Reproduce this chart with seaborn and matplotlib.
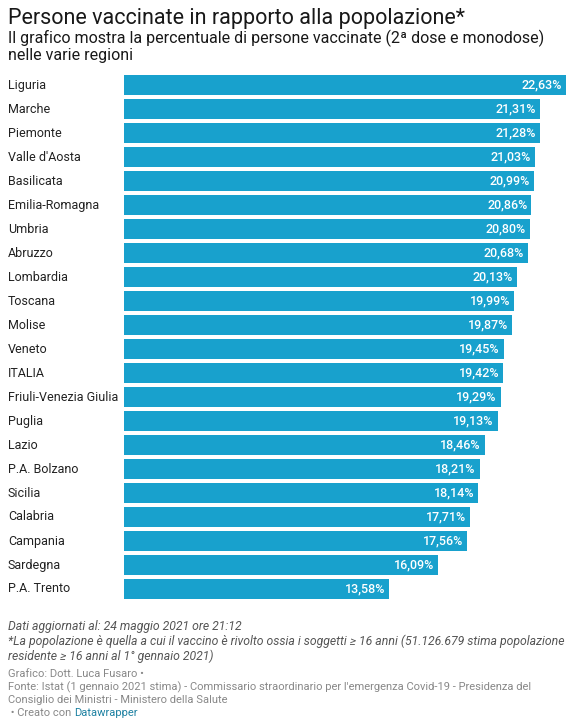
import matplotlib
matplotlib.use('Agg')
import matplotlib.pyplot as plt
import matplotlib.transforms as mtransforms
import seaborn as sns
import pandas as pd

regioni = ['Liguria', 'Marche', 'Piemonte', "Valle d'Aosta", 'Basilicata',
           'Emilia-Romagna', 'Umbria', 'Abruzzo', 'Lombardia', 'Toscana',
           'Molise', 'Veneto', 'ITALIA', 'Friuli-Venezia Giulia', 'Puglia',
           'Lazio', 'P.A. Bolzano', 'Sicilia', 'Calabria', 'Campania',
           'Sardegna', 'P.A. Trento']
percentuali = [22.63, 21.31, 21.28, 21.03, 20.99, 20.86, 20.80, 20.68, 20.13,
               19.99, 19.87, 19.45, 19.42, 19.29, 19.13, 18.46, 18.21, 18.14,
               17.71, 17.56, 16.09, 13.58]

df = pd.DataFrame({'Regione': regioni, 'Percentuale': percentuali})

sns.set_style('white')
plt.rcParams['font.family'] = ['Roboto', 'DejaVu Sans']

W, H = 574, 720
fig = plt.figure(figsize=(W / 100, H / 100), dpi=100)
ax = fig.add_axes([124 / W, 1 - 601 / H, (566 - 124) / W, (601 - 73) / H])

sns.barplot(data=df, x='Percentuale', y='Regione', orient='h', color='#18a1cd',
            saturation=1, width=0.83, linewidth=0, ax=ax)
ax.set_xlim(0, 22.63)
ax.set_ylim(len(regioni) - 0.5, -0.5)
ax.set_xlabel('')
ax.set_ylabel('')
ax.set_xticks([])
ax.set_yticks([])
for s in ax.spines.values():
    s.set_visible(False)

trans = mtransforms.blended_transform_factory(fig.transFigure, ax.transData)
for i, (r, v) in enumerate(zip(regioni, percentuali)):
    ax.text(8 / W, i, r, transform=trans, ha='left', va='center',
            fontsize=9, color='#222222')
    ax.annotate(f'{v:.2f}%'.replace('.', ','), xy=(v, i), xytext=(-3, 0),
                textcoords='offset points', ha='right', va='center',
                fontsize=9, color='white', fontweight='medium')

fig.text(8 / W, 1 - 8 / H, 'Persone vaccinate in rapporto alla popolazione*',
         fontsize=15.5, color='#181818', va='top', ha='left')
fig.text(8 / W, 1 - 30 / H,
         'Il grafico mostra la percentuale di persone vaccinate (2ª dose e monodose)\nnelle varie regioni',
         fontsize=11.5, color='#181818', va='top', ha='left', linespacing=1.05)

fig.text(8 / W, 1 - 620 / H,
         'Dati aggiornati al: 24 maggio 2021 ore 21:12\n'
         '*La popolazione è quella a cui il vaccino è rivolto ossia i soggetti ≥ 16 anni (51.126.679 stima popolazione\n'
         'residente ≥ 16 anni al 1° gennaio 2021)',
         fontsize=8.8, color='#555555', style='italic', va='top', ha='left',
         linespacing=1.15)
fig.text(8 / W, 1 - 669 / H,
         'Grafico: Dott. Luca Fusaro •\n'
         "Fonte: Istat (1 gennaio 2021 stima) - Commissario straordinario per l'emergenza Covid-19 - Presidenza del\n"
         'Consiglio dei Ministri - Ministero della Salute',
         fontsize=8, color='#888888', va='top', ha='left', linespacing=1.26)
t = fig.text(8 / W, 1 - 708 / H, ' • Creato con ', fontsize=8, color='#888888',
             va='top', ha='left')
fig.canvas.draw()
bb = t.get_window_extent()
fig.text(bb.x1 / W, 1 - 708 / H, 'Datawrapper', fontsize=8, color='#1d81a2',
         va='top', ha='left')

fig.savefig('out.png', dpi=100)
